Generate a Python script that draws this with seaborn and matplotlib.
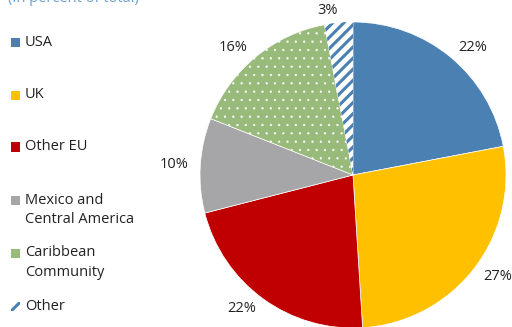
import matplotlib
matplotlib.use("Agg")
import matplotlib.pyplot as plt
from matplotlib.patches import Rectangle
import seaborn as sns

categories = ["USA", "UK", "Other EU", "Mexico and\nCentral America",
              "Caribbean\nCommunity", "Other"]
shares = [22, 27, 22, 10, 16, 3]
colors = ["#4a80b2", "#ffc000", "#c00000", "#a6a6a9", "#98ba7b", "#ffffff"]
hatches = [None, None, None, None, "..", "///"]
hatch_colors = ["white", "white", "white", "white", "white", "#4a80b2"]
hatch_widths = [1.0, 1.0, 1.0, 1.0, 0.4, 2.2]

sns.set_theme(style="white")
plt.rcParams["font.family"] = ["Open Sans", "DejaVu Sans"]

W, H = 512, 327
fig = plt.figure(figsize=(W / 100, H / 100), dpi=100)

# pie axes: centre (353, 175) px, radius 153 px
cx, cy, r = 353, 175, 153
ax = fig.add_axes([(cx - r) / W, (H - cy - r) / H, 2 * r / W, 2 * r / H])
wedges, texts = ax.pie(
    shares,
    labels=[f"{v}%" for v in shares],
    colors=colors,
    startangle=90,
    counterclock=False,
    labeldistance=1.08,
    wedgeprops=dict(linewidth=0.5, edgecolor="white"),
    textprops=dict(fontsize=10.5, color="#222222"),
)
for w, h, hc, hw in zip(wedges, hatches, hatch_colors, hatch_widths):
    if h:
        plt.rcParams["hatch.linewidth"] = hw
        w.set_hatch(h)
        if hasattr(w, "set_hatch_linewidth"):
            w.set_hatch_linewidth(hw)
        w.set_edgecolor(hc)
        if hc != "white":
            w.set_linewidth(0)
ax.set_xlim(-1, 1)
ax.set_ylim(-1, 1)
ax.set_aspect("equal")
ax.axis("off")

# title, partly above the top edge
fig.text(8 / W, 1 - 2 / H, "(In percent of total)", fontsize=10.5,
         color="#6a9fd2", ha="left", va="baseline")

# legend drawn as squares with labels, first line aligned to the marker
tops = [42, 95, 147, 200, 253, 306]
for lab, col, h, hc, hw, y in zip(categories, colors, hatches, hatch_colors,
                                  hatch_widths, tops):
    face = col if col != "#ffffff" else "#ffffff"
    sq = Rectangle((11 / W, (H - y - 4.5) / H), 9 / W, 9 / H,
                   transform=fig.transFigure, facecolor=face,
                   edgecolor=hc if h == "///" else col, linewidth=0,
                   hatch=h if h == "///" else None)
    if h == "///" and hasattr(sq, "set_hatch_linewidth"):
        sq.set_hatch_linewidth(hw)
    fig.patches.append(sq)
    fig.text(25 / W, (H - y + 7.5) / H, lab, fontsize=10.5, color="#222222",
             ha="left", va="top", linespacing=1.4)

fig.savefig("out.png", dpi=100)
